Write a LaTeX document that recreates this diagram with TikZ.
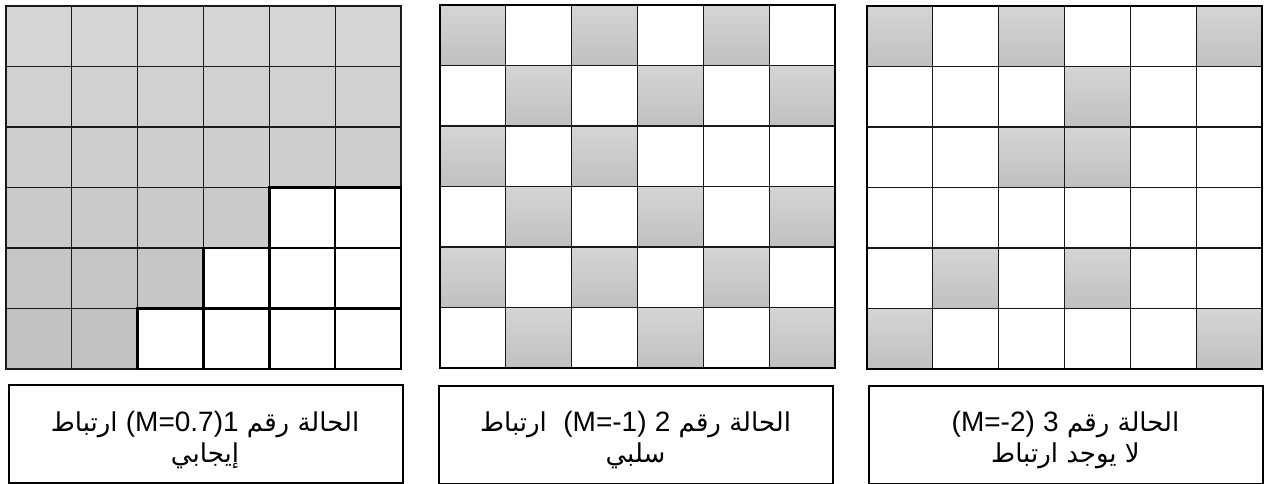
\documentclass[tikz,border=0pt]{standalone}
\usepackage{fontspec}
\newfontfamily\arabicfont[Script=Arabic]{DejaVu Sans}
\newfontfamily\latinfont{Liberation Sans}
\TeXXeTstate=1
\usetikzlibrary{shadings}
\definecolor{cellA}{HTML}{D5D5D5}
\definecolor{cellB}{HTML}{C0C0C0}
\definecolor{gridline}{HTML}{1A1A1A}
\newcommand\lat[1]{{\fontsize{28}{32}\selectfont\latinfont #1}}
\tikzset{
  graycell/.style={top color=cellA, bottom color=cellB, draw=none},
  thinline/.style={draw=gridline, line width=1.3pt},
  boldline/.style={draw=black, line width=2.6pt},
  frame/.style={draw=black, line width=2.4pt},
  labelbox/.style={draw=black, line width=2.2pt, inner sep=0pt, minimum width=394pt, minimum height=98pt, anchor=north west},
  lbl/.style={inner sep=0pt, anchor=base, font=\fontsize{26}{30}\selectfont\arabicfont},
}
\begin{document}
\begin{tikzpicture}[x=1pt,y=-1pt]
\useasboundingbox (0,0) rectangle (1265,484);
\fill[white] (0,0) rectangle (1265,484);
% ---------- grid 1 ----------
\def\cw{65.83}\def\ch{60.5}
\foreach \c in {0,...,5}{\foreach \r in {0,...,5}{
  \pgfmathtruncatemacro\s{(\c+\r>6)&&(\r>2)}
  \pgfmathtruncatemacro\p{100-\r*18}
  \ifnum\s=0
    \fill[cellA!\p!cellB] (6+\c*\cw,6+\r*\ch) rectangle ++(\cw,\ch);
  \fi
}}
\foreach \c in {0,...,5}{\foreach \r in {0,...,5}{
  \draw[thinline] (6+\c*\cw,6+\r*\ch) rectangle ++(\cw,\ch);
}}
\foreach \c in {0,...,5}{\foreach \r in {0,...,5}{
  \pgfmathtruncatemacro\s{(\c+\r>6)&&(\r>2)}
  \ifnum\s=1
    \draw[boldline] (6+\c*\cw,6+\r*\ch) rectangle ++(\cw,\ch);
  \fi
}}
% ---------- grid 2 ----------
\foreach \c/\r in {0/0,2/0,4/0,1/1,3/1,5/1,0/2,2/2,1/3,3/3,5/3,0/4,2/4,4/4,1/5,3/5,5/5}{
  \fill[graycell] (440+\c*\cw,5+\r*\ch) rectangle ++(\cw,\ch);
}
\foreach \c in {0,...,5}{\foreach \r in {0,...,5}{
  \draw[thinline] (440+\c*\cw,5+\r*\ch) rectangle ++(\cw,\ch);
}}
\draw[frame] (440,5) rectangle (835,368);
% ---------- grid 3 ----------
\foreach \c/\r in {0/0,2/0,5/0,3/1,2/2,3/2,1/4,3/4,0/5,5/5}{
  \fill[graycell] (867+\c*\cw,6+\r*\ch) rectangle ++(\cw,\ch);
}
\foreach \c in {0,...,5}{\foreach \r in {0,...,5}{
  \draw[thinline] (867+\c*\cw,6+\r*\ch) rectangle ++(\cw,\ch);
}}
\draw[frame] (867,6) rectangle (1262,369);
% ---------- label boxes ----------
\node[labelbox] (box1) at (8,384) {};
\node[labelbox] (box2) at (438,385) {};
\node[labelbox] (box3) at (868,385) {};
\node[lbl] (t1a) at (205,431) {\beginR الحالة رقم \beginL\lat{1}\endL\beginL\lat{(M=0.7)}\endL{} ارتباط\endR};
\node[lbl] (t1b) at (205,462) {\beginR إيجابي\endR};
\node[lbl] (t2a) at (635.5,431) {\beginR الحالة رقم \beginL\lat{2}\endL{} \beginL\lat{(M=-1)}\endL{}\ \ ارتباط\endR};
\node[lbl] (t2b) at (635.5,462) {\beginR سلبي\endR};
\node[lbl] (t3a) at (1065.5,431) {\beginR الحالة رقم \beginL\lat{3}\endL{} \beginL\lat{(M=-2)}\endL\endR};
\node[lbl] (t3b) at (1065.5,462) {\beginR لا يوجد ارتباط\endR};
\end{tikzpicture}
\end{document}
